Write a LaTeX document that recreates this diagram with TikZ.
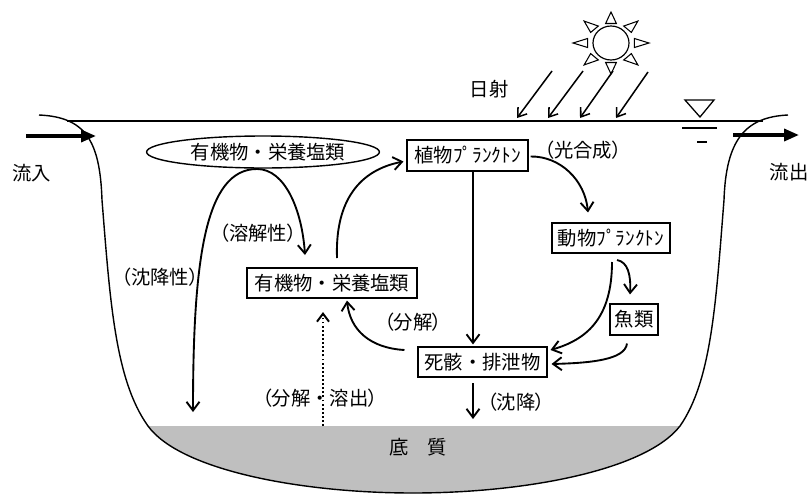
\documentclass[tikz,border=0pt]{standalone}
\usepackage{fontspec}
\setmainfont{Noto Sans CJK JP}
\newfontfamily\jpp[RawFeature=+palt]{Noto Sans CJK JP}
\usetikzlibrary{arrows.meta,shapes.geometric,calc}
\newcommand\jlab[1]{{\jpp （}#1{\jpp ）}}
\tikzset{
  txt/.style={font=\fontsize{16.5pt}{20pt}\selectfont, inner sep=0pt},
  boxn/.style={txt, draw, line width=0.9pt, minimum height=0.9cm},
  arr/.style={line width=1.6pt, -{Straight Barb[length=2.6mm,width=3.9mm]}},
  ray/.style={line width=1.3pt, -{Straight Barb[length=2.4mm,width=3.4mm]}},
  flow/.style={line width=3pt, -{Triangle[length=4.5mm,width=3.6mm]}},
  bank/.style={line width=1.2pt},
  sed/.style={fill=black!25},
}
\begin{document}
\begin{tikzpicture}[x=0.03cm,y=-0.03cm]
\useasboundingbox (0,0) rectangle (810,494);
% sediment
\fill[sed] (148,426) .. controls (180,470) and (300,493) .. (413,493)
  .. controls (526,493) and (646,470) .. (680,426) -- cycle;
% banks and bottom
\draw[bank] (39,115) .. controls (85,117) and (100,140) .. (102,200)
  .. controls (110,300) and (115,380) .. (148,426)
  .. controls (180,470) and (300,493) .. (413,493)
  .. controls (526,493) and (646,470) .. (680,426)
  .. controls (712,380) and (716,300) .. (724,200)
  .. controls (726,140) and (745,117) .. (788,115);
% water surface
\draw[line width=1.2pt] (67,121) -- (763,121);
% water level mark
\draw[line width=1.1pt] (685,100) -- (714,100) -- (700,117) -- cycle;
\draw[line width=1.1pt] (682,128) -- (717,128);
\draw[line width=1.1pt] (697,142) -- (707,142);
% sun
\coordinate (sun) at (611,43);
\draw[line width=1pt] (sun) ellipse [x radius=18, y radius=17];
\foreach \a in {0,45,...,315}{
  \draw[line width=0.9pt, line join=miter]
    ($(sun)+(\a:38 and 31)$) -- ($(sun)+(\a+13:24 and 20)$) -- ($(sun)+(\a-13:24 and 20)$) -- cycle;
}
% sun rays
\coordinate (r1s) at (552,71); \coordinate (r1e) at (517,118);
\coordinate (r2s) at (583,71); \coordinate (r2e) at (548,118);
\coordinate (r3s) at (613,71); \coordinate (r3e) at (580,118);
\coordinate (r4s) at (648,72); \coordinate (r4e) at (616,118);
\draw[ray] (r1s) -- (r1e);
\draw[ray] (r2s) -- (r2e);
\draw[ray] (r3s) -- (r3e);
\draw[ray] (r4s) -- (r4e);
% inflow / outflow
\coordinate (ins) at (26,136); \coordinate (ine) at (96,136);
\coordinate (outs) at (733,135); \coordinate (oute) at (799,135);
\draw[flow] (ins) -- (ine);
\draw[flow] (outs) -- (oute);
% texts
\node[txt] (nissha) at (489,89) {日射};
\node[txt] (ryunyu) at (32,173) {流入};
\node[txt] (ryushutsu) at (789,172) {流出};
\node[txt] (kogo) at (583,150) {\jlab{光合成}};
\node[txt] (yokai) at (258,233) {\jlab{溶解性}};
\node[txt] (chinkosei) at (160,277) {\jlab{沈降性}};
\node[txt] (bunkai) at (413,322) {\jlab{分解}};
\node[txt] (bunyo) at (320,398) {\jlab{分解・溶出}};
\node[txt] (chinko) at (516,402) {\jlab{沈降}};
\node[txt] (teishitsu) at (418,447) {底　質};
% nodes
\node[txt, draw, ellipse, line width=1.2pt, minimum width=6.6cm, minimum height=0.96cm] (ell) at (263,152) {\hspace{0.3cm}有機物・栄養塩類};
\node[boxn, minimum width=5.1cm] (yuki) at (332,283) {有機物・栄養塩類};
\node[boxn, minimum width=3.63cm, minimum height=0.93cm] (shoku) at (467.5,155.5) {植物ﾌﾟﾗﾝｸﾄﾝ};
\node[boxn, minimum width=3.54cm] (dobu) at (611,238) {動物ﾌﾟﾗﾝｸﾄﾝ};
\node[boxn, minimum width=1.44cm, minimum height=0.93cm] (gyo) at (634,319.5) {魚類};
\node[boxn, minimum width=3.87cm] (shigai) at (482.5,362) {死骸・排泄物};
% connectors
\coordinate (e1) at (257,169);
\coordinate (yukiIn) at (305,255);
\coordinate (settle) at (193,412);
\draw[arr] (e1) .. controls (285,169) and (302,210) .. (yukiIn);
\draw[arr] (e1) .. controls (205,169) and (193,260) .. (settle);
\coordinate (yukiOut) at (337,258);
\draw[arr] (yukiOut) .. controls (335,200) and (360,170) .. ($(shoku.west)+(-3,6)$);
\draw[arr] ($(shoku.east)+(2,1)$) .. controls (560,156) and (585,180) .. ($(dobu.north)+(-23,-10)$);
\draw[arr] (shoku.south -| 473,0) -- ($(shigai.north -| 473,0)+(0,-2)$);
\draw[arr] (612,262) .. controls (612,320) and (585,340) .. ($(shigai.east)+(3,-12)$);
\draw[arr] (617,260) .. controls (628,262) and (631,275) .. ($(gyo.north)+(-4,-9)$);
\draw[arr] ($(gyo.south)+(-7,8)$) .. controls (625,360) and (590,363) .. ($(shigai.east)+(4,2)$);
\draw[arr] ($(shigai.west)+(-13,-12)$) .. controls (370,348) and (350,330) .. ($(yuki.south)+(15,2)$);
\coordinate (dotS) at (323,426);
\coordinate (dotE) at (323,312);
\draw[line width=1.7pt, dash pattern=on 1.6pt off 1.9pt, -{Straight Barb[length=2.4mm,width=3.6mm]}] (dotS) -- (dotE);
\coordinate (chs) at (473,383);
\coordinate (che) at (473,419);
\draw[arr] (chs) -- (che);
\end{tikzpicture}
\end{document}
